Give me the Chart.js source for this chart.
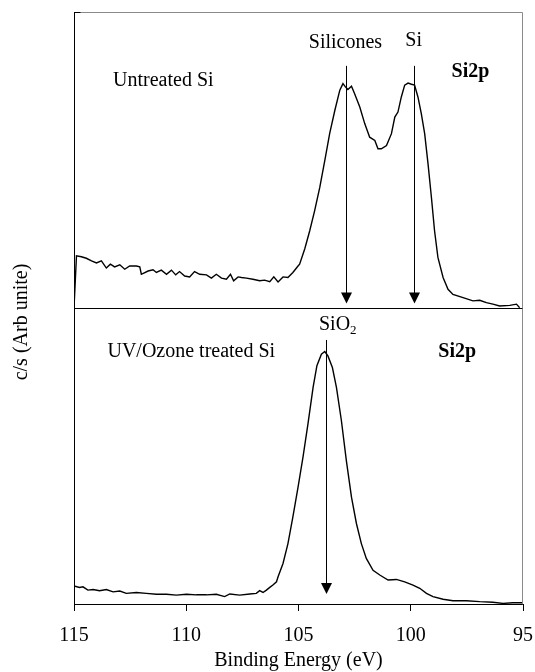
<!DOCTYPE html>
<html><head><meta charset="utf-8">
<script src="https://cdn.jsdelivr.net/npm/chart.js@4"></script>
<style>html,body{margin:0;padding:0;background:#fff}canvas{display:block}</style>
</head><body>
<canvas id="c" width="535" height="672"></canvas>
<script>
// ---- Data ----
const xTicks = [115, 110, 105, 100, 95];

// Untreated Si, Si2p region (arbitrary units, 0-100)
const topEnergy = [115.00,114.89,114.67,114.45,114.22,114.00,113.78,113.56,113.38,113.19,112.96,112.74,112.52,112.22,112.07,112.00,111.70,111.48,111.33,111.11,110.88,110.66,110.47,110.30,110.07,109.85,109.63,109.40,109.10,108.88,108.66,108.43,108.21,108.03,107.89,107.69,107.54,107.32,107.03,106.73,106.51,106.28,106.10,105.91,105.69,105.47,105.25,105.02,104.95,104.72,104.50,104.28,104.05,103.83,103.61,103.38,103.16,103.02,102.91,102.80,102.64,102.50,102.27,102.05,101.83,101.60,101.46,101.31,101.08,100.86,100.71,100.57,100.42,100.27,100.12,99.97,99.83,99.68,99.53,99.38,99.23,99.08,98.94,98.79,98.56,98.34,98.12,97.67,97.23,96.93,96.63,96.34,96.04,95.59,95.29,95.15];
const topCounts = [0,17.6,17.3,16.8,15.9,15.2,15.9,13.5,14.8,13.9,14.6,13.1,14.2,14.2,13.9,11.4,12.5,12.9,12.0,12.8,11.4,12.8,11.2,12.3,10.8,10.5,12.3,11.4,11.2,10.1,11.4,10.1,9.7,11.4,9.2,10.5,10.3,10.1,9.7,9.2,9.4,8.9,10.5,8.8,10.5,10.3,12.0,14.2,14.8,20.0,26.1,32.9,40.8,49.8,59.0,66.8,73.6,75.8,74.7,73.8,74.9,72.4,67.9,62.3,57.7,56.6,53.8,53.8,54.9,58.9,64.5,66.2,71.3,75.3,76.0,75.6,75.3,71.3,65.7,58.9,48.7,37.4,26.1,17.1,10.3,6.3,4.6,3.5,2.4,2.6,1.8,1.3,0.7,0.9,1.3,0.1];

// UV/Ozone treated Si, Si2p region (arbitrary units, 0-100)
const botEnergy = [115.00,114.75,114.60,114.38,114.15,113.86,113.56,113.26,112.96,112.67,112.22,111.78,111.33,110.88,110.44,109.99,109.55,109.10,108.66,108.29,108.06,107.62,107.17,106.88,106.73,106.58,106.43,106.28,106.14,105.98,105.91,105.69,105.47,105.25,105.02,104.80,104.58,104.35,104.18,103.98,103.83,103.69,103.49,103.31,103.09,102.87,102.64,102.42,102.20,101.98,101.68,101.38,101.01,100.64,100.27,99.90,99.60,99.30,99.01,98.56,98.12,97.52,96.93,96.34,95.89,95.45,95.00];
const botCounts = [6.1,5.6,5.8,4.7,4.9,4.5,4.9,4.1,4.4,3.6,3.9,3.6,3.3,3.3,3.0,3.3,3.1,3.1,3.3,2.5,3.4,3.0,3.4,3.6,4.5,3.9,4.7,5.6,6.4,7.5,9.2,13.7,20.4,29.4,39.5,49.6,60.8,73.2,80.5,84.4,85.3,83.8,79.9,73.2,62.0,48.5,36.1,27.2,20.4,15.4,11.4,9.8,8.1,8.3,7.5,6.4,5.3,3.6,2.5,1.6,1.1,1.1,0.8,0.6,0.2,0.4,0.4];

// Peak markers (binding energy, eV)
const topArrowEnergy = [102.87, 99.87];
const botArrowEnergy = [103.76];

// ---- Presentation ----
const FONT = '"Liberation Serif", "Times New Roman", serif';
const arrowSpan = { yTop: [81.8, 1.5], yBot: [89.2, 3.4] };
const labels = [
  { axis: 'yTop', e: 113.26, v: 74.9, text: 'Untreated Si', align: 'left' },
  { axis: 'yTop', e: 102.91, v: 87.7, text: 'Silicones', align: 'center' },
  { axis: 'yTop', e: 99.87, v: 88.6, text: 'Si', align: 'center' },
  { axis: 'yTop', e: 97.34, v: 78.1, text: 'Si2p', align: 'center', bold: true },
  { axis: 'yBot', e: 113.51, v: 83.3, text: 'UV/Ozone treated Si', align: 'left' },
  { axis: 'yBot', e: 103.25, v: 92.5, text: 'SiO', sub: '2', align: 'center' },
  { axis: 'yBot', e: 97.93, v: 83.3, text: 'Si2p', align: 'center', bold: true }
];

const overlay = {
  id: 'overlay',
  afterDraw(chart) {
    const { ctx, chartArea: a, scales } = chart;
    const xs = scales.x;
    ctx.save();
    const seg = (x1, y1, x2, y2, c) => { ctx.strokeStyle = c; ctx.lineWidth = 1; ctx.beginPath(); ctx.moveTo(x1, y1); ctx.lineTo(x2, y2); ctx.stroke(); };
    const L = Math.round(a.left) + 0.5, R = Math.round(a.right) - 0.5;
    const T = Math.round(a.top) + 0.5, B = Math.round(a.bottom) + 0.5;
    const D = Math.round(scales.yTop.bottom) + 0.5;
    seg(L, T, R, T, '#8a8a8a');
    seg(R, T, R, B, '#8a8a8a');
    seg(L, D, R, D, '#000');
    seg(L, T - 0.5, L, B, '#000');
    seg(L, B, R, B, '#000');
    seg(L, T, L + 6, T, '#000');
    seg(L, B, L + 6, B, '#000');

    const drawArrow = (e, axis) => {
      const ys = scales[axis];
      const x = Math.round(xs.getPixelForValue(e)) + 0.5;
      const y0 = ys.getPixelForValue(arrowSpan[axis][0]);
      const y1 = ys.getPixelForValue(arrowSpan[axis][1]);
      seg(x, y0, x, y1 - 8, '#000');
      ctx.fillStyle = '#000';
      ctx.beginPath();
      ctx.moveTo(x - 5.5, y1 - 11);
      ctx.lineTo(x + 5.5, y1 - 11);
      ctx.lineTo(x, y1);
      ctx.closePath();
      ctx.fill();
    };
    topArrowEnergy.forEach(e => drawArrow(e, 'yTop'));
    botArrowEnergy.forEach(e => drawArrow(e, 'yBot'));

    ctx.fillStyle = '#000';
    ctx.textBaseline = 'alphabetic';
    labels.forEach(l => {
      const x = xs.getPixelForValue(l.e);
      const y = scales[l.axis].getPixelForValue(l.v);
      const mainFont = (l.bold ? 'bold ' : '') + '20px ' + FONT;
      ctx.font = mainFont;
      const w1 = ctx.measureText(l.text).width;
      let w2 = 0;
      if (l.sub) { ctx.font = '13px ' + FONT; w2 = ctx.measureText(l.sub).width; }
      const total = w1 + w2;
      const x0 = l.align === 'left' ? x : x - total / 2;
      ctx.textAlign = 'left';
      ctx.font = mainFont;
      ctx.fillText(l.text, x0, y);
      if (l.sub) { ctx.font = '13px ' + FONT; ctx.fillText(l.sub, x0 + w1, y + 4); }
    });

    ctx.save();
    ctx.translate(21.5, 322);
    ctx.rotate(-Math.PI / 2);
    ctx.font = '20px ' + FONT;
    ctx.textAlign = 'center';
    ctx.textBaseline = 'middle';
    ctx.fillText('c/s (Arb unite)', 0, 0);
    ctx.restore();
    ctx.restore();
  }
};

const yAxis = () => ({
  type: 'linear', position: 'left', stack: 'panels', stackWeight: 1,
  min: 0, max: 100,
  ticks: { display: false },
  grid: { display: false },
  border: { display: true, color: '#000', width: 1 },
  afterFit: s => { s.width = 74; }
});

const lineStyle = { borderColor: '#000', borderWidth: 1.4, pointRadius: 0, tension: 0, fill: false };

new Chart(document.getElementById('c'), {
  type: 'line',
  data: {
    datasets: [
      Object.assign({ label: 'Untreated Si', yAxisID: 'yTop', data: topEnergy.map((e, i) => ({ x: e, y: topCounts[i] })) }, lineStyle),
      Object.assign({ label: 'UV/Ozone treated Si', yAxisID: 'yBot', data: botEnergy.map((e, i) => ({ x: e, y: botCounts[i] })) }, lineStyle)
    ]
  },
  options: {
    responsive: false, animation: false, devicePixelRatio: 1,
    layout: { padding: { top: 12, right: 12, left: 0, bottom: 0 } },
    plugins: { legend: { display: false }, tooltip: { enabled: false } },
    scales: {
      x: {
        type: 'linear', position: 'bottom', min: 95, max: 115, reverse: true,
        afterBuildTicks: s => { s.ticks = xTicks.map(v => ({ value: v })); },
        ticks: { font: { family: FONT, size: 20 }, color: '#000', padding: 13, maxRotation: 0, autoSkip: false },
        grid: { drawOnChartArea: false, drawTicks: true, tickLength: 7, color: '#000' },
        border: { display: true, color: '#000', width: 1 },
        title: { display: true, text: 'Binding Energy (eV)', color: '#000', font: { family: FONT, size: 20, lineHeight: 1 }, padding: { top: 0, bottom: 1 } },
        afterFit: s => { s.height = 68; s.paddingLeft = 0; s.paddingRight = 0; }
      },
      yBot: yAxis(),
      yTop: yAxis()
    }
  },
  plugins: [overlay]
});
</script>
</body></html>
